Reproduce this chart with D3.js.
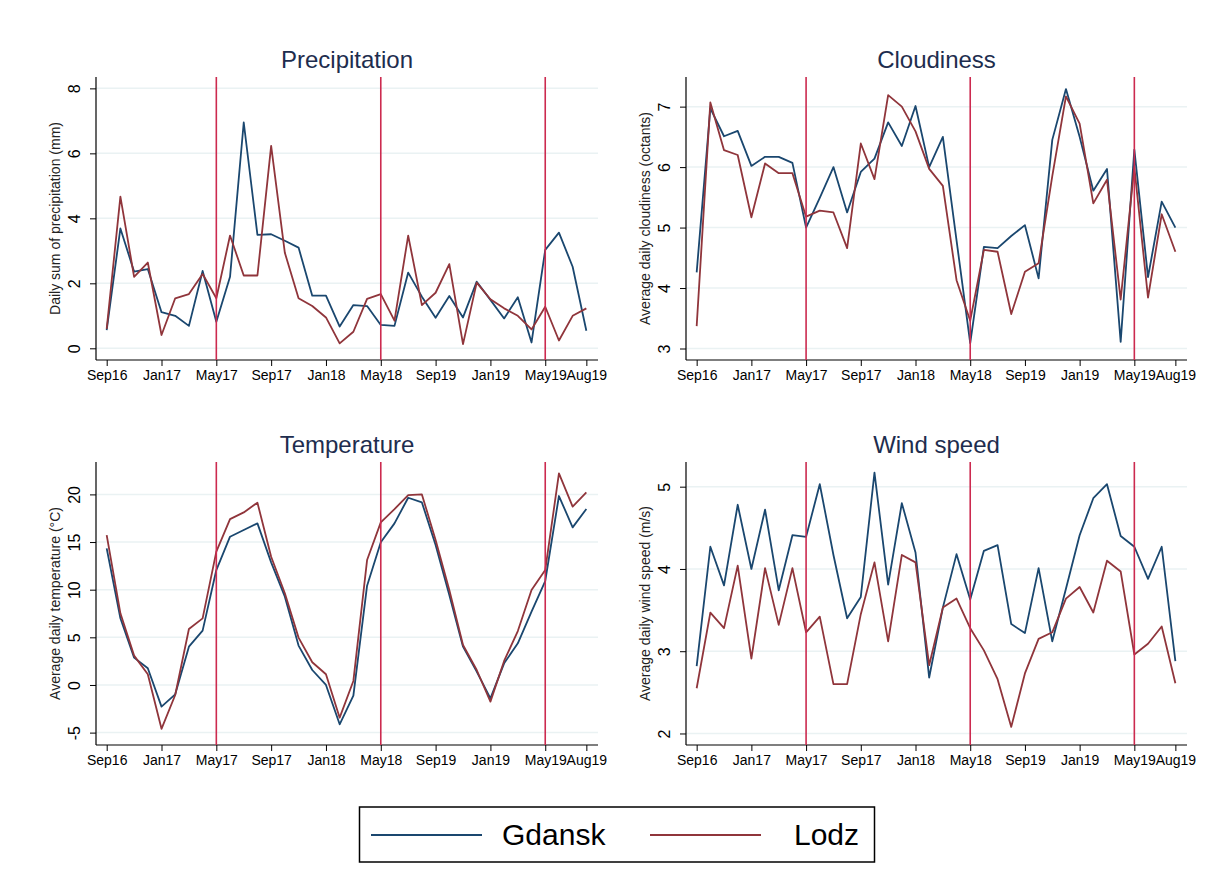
<!DOCTYPE html>
<meta charset="utf-8">
<script src="https://d3js.org/d3.v7.min.js"></script>
<style>
  body { margin: 0; background: #fff; }
  text { font-family: "Liberation Sans", Arial, sans-serif; }
</style>
<body>
<div id="chart"></div>
<script>

// months Sep16 .. Aug19 (index 0..35)
var tickIdx = [0, 4, 8, 12, 16, 20, 24, 28, 32, 35];
var tickLabels = ["Sep16", "Jan17", "May17", "Sep17", "Jan18", "May18", "Sep19", "Jan19", "May19", "Aug19"];
var markIdx = [8, 20, 32];

var precipGdansk = [0.56, 3.69, 2.36, 2.44, 1.11, 1.0, 0.69, 2.38, 0.82, 2.2, 6.95, 3.49, 3.51, 3.31, 3.1, 1.62,
  1.62, 0.67, 1.33, 1.3, 0.72, 0.69, 2.33, 1.59, 0.94, 1.61, 0.95, 2.05, 1.49, 0.92, 1.57, 0.18, 3.03, 3.56, 2.51, 0.54];
var precipLodz = [0.6, 4.67, 2.2, 2.64, 0.41, 1.54, 1.67, 2.29, 1.54, 3.47, 2.24, 2.24, 6.23, 2.94, 1.54, 1.3,
  0.95, 0.15, 0.51, 1.52, 1.67, 0.85, 3.47, 1.33, 1.71, 2.59, 0.13, 2.02, 1.51, 1.23, 1.0, 0.58, 1.28, 0.24, 1.0, 1.23];

var cloudGdansk = [4.26, 6.97, 6.51, 6.6, 6.02, 6.17, 6.17, 6.07, 5.0, 5.49, 6.0, 5.25, 5.92, 6.14, 6.74, 6.35,
  7.01, 6.0, 6.5, 4.79, 3.09, 4.68, 4.66, 4.86, 5.04, 4.16, 6.45, 7.29, 6.5, 5.61, 5.97, 3.11, 6.29, 4.18, 5.43, 5.0];
var cloudLodz = [3.37, 7.07, 6.28, 6.2, 5.17, 6.06, 5.9, 5.9, 5.18, 5.28, 5.25, 4.66, 6.39, 5.8, 7.19, 7.0,
  6.59, 5.97, 5.69, 4.13, 3.46, 4.63, 4.6, 3.57, 4.27, 4.41, 5.85, 7.17, 6.72, 5.4, 5.79, 3.81, 6.0, 3.84, 5.22, 4.6];

var tempGdansk = [14.34, 7.0, 2.87, 1.75, -2.27, -0.98, 4.02, 5.7, 12.06, 15.56, 16.26, 16.96, 12.87, 9.27, 4.13, 1.57,
  0.0, -4.13, -1.12, 10.42, 14.97, 16.96, 19.65, 19.16, 14.69, 9.44, 4.02, 1.4, -1.4, 2.27, 4.37, 7.69, 10.91, 19.83, 16.54, 18.46];
var tempLodz = [15.73, 7.52, 3.08, 1.12, -4.6, -1.05, 5.87, 6.99, 13.99, 17.41, 18.11, 19.13, 13.46, 9.62, 4.97, 2.38,
  1.12, -3.43, 0.42, 13.11, 17.06, 18.46, 19.93, 20.0, 15.21, 9.97, 4.2, 1.57, -1.75, 2.52, 5.66, 9.97, 12.06, 22.2, 18.71, 20.21];

var windGdansk = [2.82, 4.27, 3.8, 4.78, 4.0, 4.72, 3.74, 4.41, 4.39, 5.03, 4.17, 3.4, 3.66, 5.17, 3.81, 4.8,
  4.2, 2.68, 3.53, 4.18, 3.63, 4.22, 4.29, 3.33, 3.22, 4.01, 3.12, 3.76, 4.41, 4.86, 5.03, 4.4, 4.27, 3.88, 4.27, 2.88];
var windLodz = [2.55, 3.47, 3.28, 4.04, 2.91, 4.01, 3.32, 4.01, 3.23, 3.42, 2.6, 2.6, 3.45, 4.08, 3.12, 4.17,
  4.08, 2.83, 3.53, 3.64, 3.28, 3.01, 2.66, 2.08, 2.73, 3.15, 3.23, 3.64, 3.78, 3.47, 4.1, 3.97, 2.96, 3.09, 3.3, 2.61];

var cityNames = ["Gdansk", "Lodz"];
var cityColors = ["#1a476f", "#90353b"];

var panels = [
  {title: "Precipitation", ylab: "Daily sum of precipitation (mm)", series: [precipGdansk, precipLodz],
   yDomain: [-0.36, 8.35], yTicks: [0, 2, 4, 6, 8], left: 96, right: 598, top: 77, bottom: 360},
  {title: "Cloudiness", ylab: "Average daily cloudiness (octants)", series: [cloudGdansk, cloudLodz],
   yDomain: [2.81, 7.49], yTicks: [3, 4, 5, 6, 7], left: 686, right: 1187, top: 77, bottom: 360},
  {title: "Temperature", ylab: "Average daily temperature (°C)", series: [tempGdansk, tempLodz],
   yDomain: [-6.3, 23.4], yTicks: [-5, 0, 5, 10, 15, 20], left: 96, right: 598, top: 462, bottom: 745},
  {title: "Wind speed", ylab: "Average daily wind speed (m/s)", series: [windGdansk, windLodz],
   yDomain: [1.86, 5.3], yTicks: [2, 3, 4, 5], left: 686, right: 1187, top: 462, bottom: 745}
];

var svg = d3.select("#chart").append("svg")
  .attr("width", 1224)
  .attr("height", 889);

panels.forEach(function(p) {
  var g = svg.append("g");

  var x = d3.scaleLinear().domain([-0.78, 35.85]).range([p.left, p.right]);
  var y = d3.scaleLinear().domain(p.yDomain).range([p.bottom, p.top]);

  // gridlines
  g.selectAll(".grid")
    .data(p.yTicks)
    .enter().append("line")
      .attr("x1", p.left).attr("x2", p.right)
      .attr("y1", function(d) { return y(d); })
      .attr("y2", function(d) { return y(d); })
      .attr("stroke", "#eaf2f3")
      .attr("stroke-width", 1.5);

  // y axis
  var yAxis = g.append("g")
    .attr("transform", "translate(" + p.left + ",0)")
    .call(d3.axisLeft(y).tickValues(p.yTicks).tickSize(6).tickSizeOuter(0)
      .tickFormat(function(d) { return String(d); }));
  yAxis.attr("font-size", null);
  yAxis.select(".domain").remove();
  yAxis.selectAll(".tick line").attr("stroke", "#000");
  yAxis.selectAll(".tick text")
    .attr("x", null).attr("dy", null)
    .attr("transform", "translate(-16,0) rotate(-90)")
    .attr("text-anchor", "middle")
    .style("font-size", "16px")
    .attr("fill", "#000");
  g.append("line")
    .attr("x1", p.left).attr("x2", p.left)
    .attr("y1", p.top).attr("y2", p.bottom)
    .attr("stroke", "#000").attr("stroke-width", 1.2);

  // x axis
  var xAxis = g.append("g")
    .attr("transform", "translate(0," + p.bottom + ")")
    .call(d3.axisBottom(x).tickValues(tickIdx)
      .tickFormat(function(d, i) { return tickLabels[i]; })
      .tickSize(6).tickSizeOuter(0));
  xAxis.attr("font-size", null);
  xAxis.select(".domain").remove();
  xAxis.selectAll(".tick line").attr("stroke", "#000");
  xAxis.selectAll(".tick text")
    .attr("y", 10)
    .style("font-size", "14px")
    .attr("fill", "#000");
  g.append("line")
    .attr("x1", p.left).attr("x2", p.right)
    .attr("y1", p.bottom).attr("y2", p.bottom)
    .attr("stroke", "#000").attr("stroke-width", 1.2);

  // series
  var line = d3.line()
    .x(function(d, i) { return x(i); })
    .y(function(d) { return y(d); });
  p.series.forEach(function(s, k) {
    g.append("path")
      .datum(s)
      .attr("d", line)
      .attr("fill", "none")
      .attr("stroke", cityColors[k])
      .attr("stroke-width", 1.8)
      .attr("stroke-linejoin", "round");
  });

  // vertical markers
  g.selectAll(".mark")
    .data(markIdx)
    .enter().append("line")
      .attr("x1", function(d) { return x(d); })
      .attr("x2", function(d) { return x(d); })
      .attr("y1", p.top).attr("y2", p.bottom)
      .attr("stroke", "#cc2a4f")
      .attr("stroke-width", 1.6);

  // titles
  g.append("text")
    .attr("x", (p.left + p.right) / 2)
    .attr("y", p.top - 9)
    .attr("text-anchor", "middle")
    .style("font-size", "24px")
    .attr("fill", "#1e2d4e")
    .text(p.title);

  g.append("text")
    .attr("transform", "translate(" + (p.left - 36) + "," + ((p.top + p.bottom) / 2) + ") rotate(-90)")
    .attr("text-anchor", "middle")
    .style("font-size", "14px")
    .attr("fill", "#222")
    .text(p.ylab);
});

// legend
var legend = svg.append("g");
legend.append("rect")
  .attr("x", 359.5).attr("y", 807)
  .attr("width", 515).attr("height", 55)
  .attr("fill", "#fff")
  .attr("stroke", "#000")
  .attr("stroke-width", 1.5);

var legX = [371, 650];
cityNames.forEach(function(name, k) {
  legend.append("line")
    .attr("x1", legX[k]).attr("x2", legX[k] + 111)
    .attr("y1", 835).attr("y2", 835)
    .attr("stroke", cityColors[k])
    .attr("stroke-width", 2);
  legend.append("text")
    .attr("x", legX[k] + (k === 0 ? 131 : 144))
    .attr("y", 845)
    .style("font-size", "30px")
    .attr("fill", "#000")
    .text(name);
});

</script>
</body>
